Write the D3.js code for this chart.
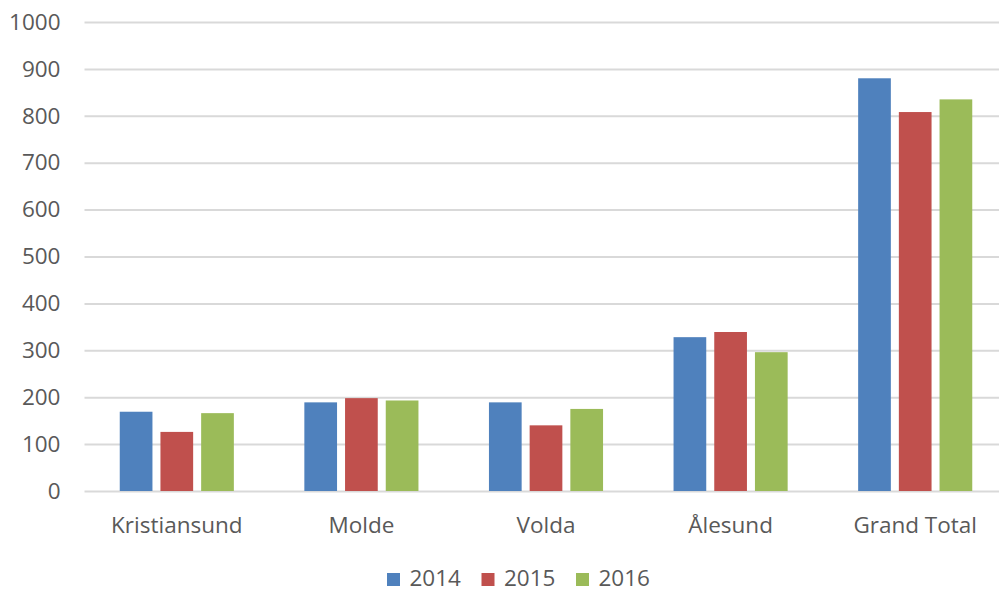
<!DOCTYPE html>
<html>
<head>
<meta charset="utf-8">
<script src="https://cdn.jsdelivr.net/npm/d3@7"></script>
<style>
  html, body { margin: 0; padding: 0; background: #fff; }
  svg { display: block; }
  text { font-family: "Open Sans", sans-serif; fill: #595959; }
</style>
</head>
<body>
<svg id="chart" width="999" height="593"></svg>
<script>
// Categories, series and values
const categories = ["Kristiansund", "Molde", "Volda", "Ålesund", "Grand Total"];
const years = ["2014", "2015", "2016"];
const values2014 = [169, 189, 189, 328, 880];
const values2015 = [126, 198, 140, 339, 808];
const values2016 = [166, 193, 175, 296, 835];
const yTicks = [0, 100, 200, 300, 400, 500, 600, 700, 800, 900, 1000];
const colors = ["#4f81bd", "#c0504d", "#9bbb59"];

const seriesValues = [values2014, values2015, values2016];
const rows = categories.map((c, i) => ({
  category: c,
  bars: years.map((y, j) => ({ year: y, value: seriesValues[j][i], color: colors[j] }))
}));

const svg = d3.select("#chart");
const fontSize = 22.5;

const x0 = d3.scaleBand().domain(categories).range([84.5, 1007.5]).paddingInner(0).paddingOuter(0);
const x1 = d3.scaleBand().domain(years).range([0, x0.bandwidth()]).paddingInner(0.1966).paddingOuter(0.866);
const y = d3.scaleLinear().domain([0, 1000]).range([491, 22]);

// Horizontal gridlines with value labels
const yAxis = svg.append("g")
  .attr("transform", "translate(84.5,0)")
  .call(d3.axisLeft(y).tickValues(yTicks).tickSize(-(1007.5 - 84.5)).tickPadding(24).tickFormat(d3.format("d")));
yAxis.select(".domain").remove();
yAxis.selectAll(".tick line").attr("stroke", "#d9d9d9").attr("stroke-width", 2);
yAxis.selectAll(".tick text")
  .style("font-size", fontSize + "px")
  .style("font-family", "'Open Sans', sans-serif")
  .attr("fill", "#595959");

// Grouped bars
const groups = svg.append("g").selectAll("g")
  .data(rows).join("g")
  .attr("transform", d => `translate(${x0(d.category)},0)`);

groups.selectAll("rect")
  .data(d => d.bars).join("rect")
  .attr("x", d => x1(d.year))
  .attr("width", x1.bandwidth())
  .attr("y", d => y(d.value))
  .attr("height", d => y(0) - y(d.value))
  .attr("fill", d => d.color);

// Category labels
svg.append("g").selectAll("text")
  .data(categories).join("text")
  .attr("x", d => x0(d) + x0.bandwidth() / 2)
  .attr("y", 533)
  .attr("text-anchor", "middle")
  .style("font-size", fontSize + "px")
  .text(d => d);

// Legend
const legendX = [387, 481.5, 576];
const legendBaseline = 586;
const legend = svg.append("g").selectAll("g")
  .data(years).join("g")
  .attr("transform", (d, i) => `translate(${legendX[i]},0)`);
legend.append("rect")
  .attr("x", 0).attr("y", legendBaseline - 13)
  .attr("width", 13).attr("height", 13)
  .attr("fill", (d, i) => colors[i]);
legend.append("text")
  .attr("x", 22.5).attr("y", legendBaseline)
  .style("font-size", fontSize + "px")
  .text(d => d);
</script>
</body>
</html>
